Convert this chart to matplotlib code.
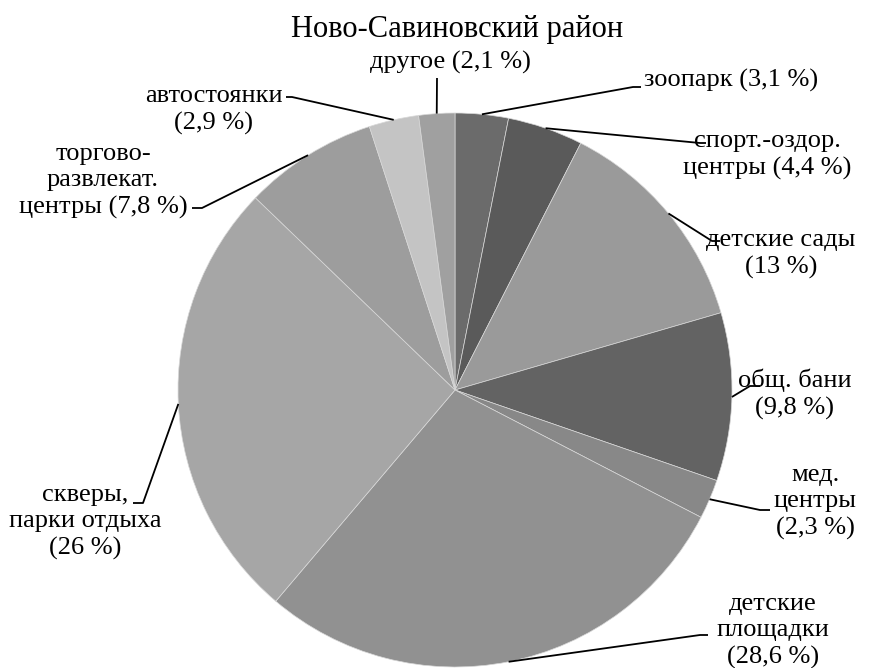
import numpy as np
import matplotlib
matplotlib.use("Agg")
import matplotlib.pyplot as plt

plt.rcParams['font.family'] = ['Liberation Serif', 'DejaVu Serif']

title = "Ново-Савиновский район"
categories = ["зоопарк", "спорт.-оздор. центры", "детские сады", "общ. бани",
              "мед. центры", "детские площадки", "скверы, парки отдыха",
              "торгово-развлекат. центры", "автостоянки", "другое"]
values = [3.1, 4.4, 13, 9.8, 2.3, 28.6, 26, 7.8, 2.9, 2.1]
label_texts = ["зоопарк (3,1 %)", "спорт.-оздор.\nцентры (4,4 %)", "детские сады\n(13 %)",
               "общ. бани\n(9,8 %)", "мед.\nцентры\n(2,3 %)", "детские\nплощадки\n(28,6 %)",
               "скверы,\nпарки отдыха\n(26 %)", "торгово-\nразвлекат.\nцентры (7,8 %)",
               "автостоянки\n(2,9 %)", "другое (2,1 %)"]
colors = ["#6b6b6b", "#5a5a5a", "#9a9a9a", "#636363", "#888888",
          "#919191", "#a6a6a6", "#9d9d9d", "#c4c4c4", "#a0a0a0"]

W, H = 878, 668
fig = plt.figure(figsize=(W / 100, H / 100), dpi=100)
ax = fig.add_axes([0, 0, 1, 1])

cx, cy, R = 455, H - 390, 277
wedges, _ = ax.pie(values, colors=colors, startangle=90, counterclock=False,
                   center=(cx, cy), radius=R,
                   wedgeprops=dict(edgecolor='#d8d8d8', linewidth=0.5))
ax.set_xlim(0, W)
ax.set_ylim(0, H)
ax.set_aspect('equal')
ax.axis('off')

# layout: (text x, text y, elbow x, elbow y, line end x) in pixel coords from top-left
layout = [
    (731, 80, 633, 87, 641),
    (767, 155, 700, 143, 706),
    (781, 254, 712, 241, 720),
    (795, 394, 750, 386, 760),
    (815, 502, 760, 510, 770),
    (773, 631, 700, 635, 708),
    (85, 522, 143, 503, 133),
    (103, 181, 202, 208, 192),
    (214, 110, 292, 97, 286),
    (450, 62, 437, 78, 437),
]

for w, txt, (tx, ty, ex, ey, lx) in zip(wedges, label_texts, layout):
    mid = np.deg2rad((w.theta1 + w.theta2) / 2)
    sx = cx + R * np.cos(mid)
    sy = cy + R * np.sin(mid)
    ax.plot([sx, ex, lx], [sy, H - ey, H - ey], color='black', lw=1.3,
            solid_capstyle='butt', zorder=3)
    ax.text(tx, H - ty, txt, ha='center', va='center', fontsize=19,
            linespacing=1.27, color='black')

ax.text(457, H - 30, title, ha='center', va='center', fontsize=22, color='black')

fig.savefig("out.png", dpi=100)
